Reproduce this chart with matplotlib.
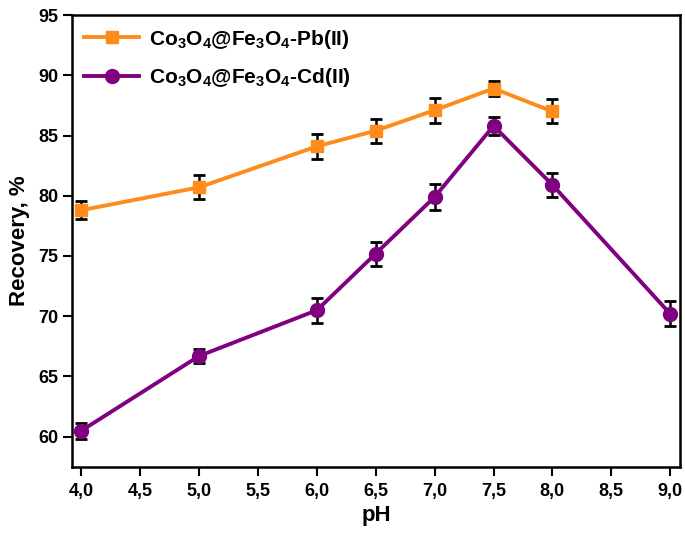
import matplotlib
matplotlib.use("Agg")
import matplotlib.pyplot as plt
from matplotlib.ticker import FuncFormatter, MultipleLocator

plt.rcParams["font.family"] = "Liberation Sans"
plt.rcParams["font.weight"] = "bold"
plt.rcParams["mathtext.fontset"] = "custom"
plt.rcParams["mathtext.rm"] = "Liberation Sans:bold"
plt.rcParams["mathtext.it"] = "Liberation Sans:bold"
plt.rcParams["mathtext.bf"] = "Liberation Sans:bold"

# --- data ---
ph_pb = [4.0, 5.0, 6.0, 6.5, 7.0, 7.5, 8.0]
rec_pb = [78.8, 80.7, 84.1, 85.4, 87.1, 88.9, 87.0]
err_pb = [0.75, 1.0, 1.05, 1.0, 1.05, 0.65, 1.0]

ph_cd = [4.0, 5.0, 6.0, 6.5, 7.0, 7.5, 8.0, 9.0]
rec_cd = [60.5, 66.7, 70.5, 75.2, 79.9, 85.8, 80.9, 70.2]
err_cd = [0.65, 0.6, 1.05, 1.0, 1.1, 0.75, 1.0, 1.05]

label_pb = r"Co$_3$O$_4$@Fe$_3$O$_4$-Pb(II)"
label_cd = r"Co$_3$O$_4$@Fe$_3$O$_4$-Cd(II)"

fig = plt.figure(figsize=(6.85, 5.36), dpi=100)
ax = fig.add_axes([0.105, 0.129, 0.888, 0.843])

ax.errorbar(ph_pb, rec_pb, yerr=err_pb, color="#FF8C1A", marker="s", markersize=9,
            linewidth=2.8, ecolor="black", elinewidth=1.8, capsize=4.5, capthick=2,
            label=label_pb, zorder=3)
ax.errorbar(ph_cd, rec_cd, yerr=err_cd, color="#800080", marker="o", markersize=10,
            linewidth=2.8, ecolor="black", elinewidth=1.8, capsize=4.5, capthick=2,
            label=label_cd, zorder=3)

ax.set_xlim(3.92, 9.085)
ax.set_ylim(57.5, 95)
ax.xaxis.set_major_locator(MultipleLocator(0.5))
ax.yaxis.set_major_locator(MultipleLocator(5))
ax.xaxis.set_major_formatter(FuncFormatter(lambda v, p: f"{v:.1f}".replace(".", ",")))
ax.yaxis.set_major_formatter(FuncFormatter(lambda v, p: f"{v:.0f}"))

for s in ax.spines.values():
    s.set_linewidth(1.8)
ax.tick_params(direction="out", length=6.5, width=1.5, labelsize=13)
ax.tick_params(axis="y", pad=3)
ax.tick_params(axis="x", pad=5)
for lbl in ax.get_xticklabels() + ax.get_yticklabels():
    lbl.set_fontweight("bold")

ax.set_xlabel("pH", fontsize=16, fontweight="bold", labelpad=4)
ax.set_ylabel("Recovery, %", fontsize=16, fontweight="bold", labelpad=6)

handles, labels = ax.get_legend_handles_labels()
handles = [h[0] for h in handles]
ax.legend(handles, labels, loc="upper left", frameon=False, fontsize=15,
          handlelength=2.6, handletextpad=0.5, borderaxespad=0.2, labelspacing=0.75)

fig.savefig("out.png", dpi=100)
